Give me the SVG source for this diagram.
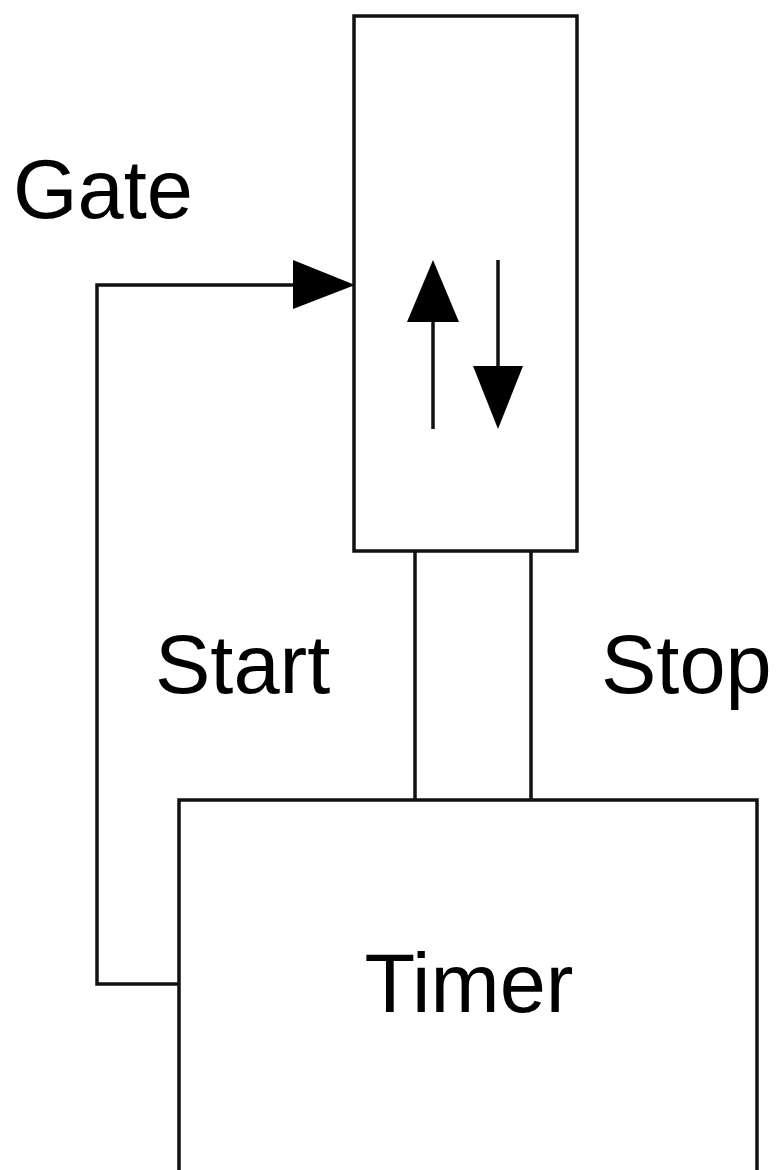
<svg xmlns="http://www.w3.org/2000/svg" width="778" height="1170" viewBox="0 0 778 1170">
<style>
.box{fill:#fff;stroke:#111;stroke-width:3.5}
.ln{fill:none;stroke:#111;stroke-width:3.5}
.lbl{font-family:"Liberation Sans",Arial,sans-serif;font-size:83px;fill:#000}
.head{fill:#000}
</style>
<rect width="778" height="1170" fill="#fff"/>
<g id="connectors">
<polyline class="ln" points="179,984 97,984 97,285 300,285"/>
<polygon class="head" points="293,260 355,285 293,309"/>
<line class="ln" x1="415" y1="552" x2="415" y2="800"/>
<line class="ln" x1="531" y1="552" x2="531" y2="800"/>
</g>
<g id="node-counter">
<rect class="box" x="354" y="16" width="223" height="535"/>
<line class="ln" x1="433" y1="318" x2="433" y2="429"/>
<polygon class="head" points="433,260 459,322 407,322"/>
<line class="ln" x1="498" y1="260" x2="498" y2="370"/>
<polygon class="head" points="473,366 523,366 498,429"/>
</g>
<g id="node-timer">
<rect class="box" x="179" y="800" width="578" height="372"/>
<text class="lbl" x="469" y="1012" text-anchor="middle" font-size="84">Timer</text>
</g>
<g id="labels">
<text class="lbl" x="13" y="218">Gate</text>
<text class="lbl" x="155" y="693">Start</text>
<text class="lbl" x="601" y="693">Stop</text>
</g>
</svg>
